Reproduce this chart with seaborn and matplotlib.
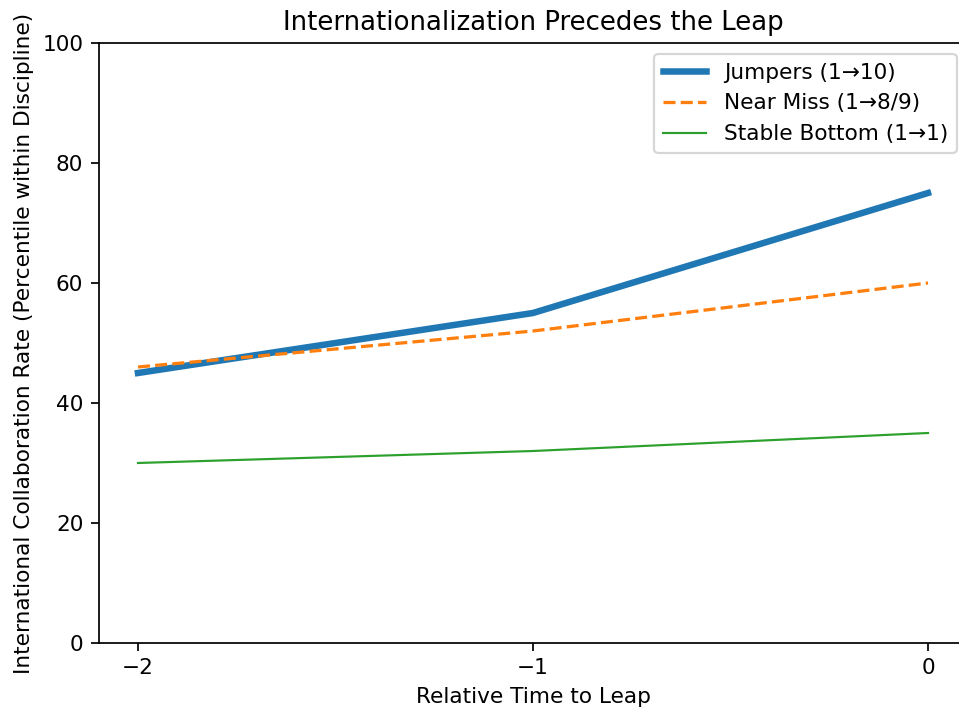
import pandas as pd
import matplotlib.pyplot as plt
import seaborn as sns

rel_time = [-2, -1, 0]
jumpers = [45, 55, 75]
near_miss = [46, 52, 60]
stable_bottom = [30, 32, 35]

df = pd.DataFrame({'t': rel_time, 'jump': jumpers, 'near': near_miss, 'stable': stable_bottom})

# reference looks rendered at ~156 dpi, then cropped on the right
fig = plt.figure(figsize=(959 / 156, 711 / 156), dpi=156)
ax = fig.add_axes([98.5 / 959, 1 - 643 / 711, 869 / 959, 600 / 711])

sns.lineplot(x='t', y='jump', data=df, ax=ax, color='C0', linewidth=3, label='Jumpers (1→10)')
sns.lineplot(x='t', y='near', data=df, ax=ax, color='C1', linewidth=1.5, linestyle='--', label='Near Miss (1→8/9)')
sns.lineplot(x='t', y='stable', data=df, ax=ax, color='C2', linewidth=1, label='Stable Bottom (1→1)')

ax.set_ylim(0, 100)
ax.set_xticks(rel_time)
ax.set_xlabel('Relative Time to Leap')
ax.set_ylabel('International Collaboration Rate (Percentile within Discipline)')
ax.set_title('Internationalization Precedes the Leap')
ax.legend(loc='upper right')

plt.savefig('out.png', dpi=156)
